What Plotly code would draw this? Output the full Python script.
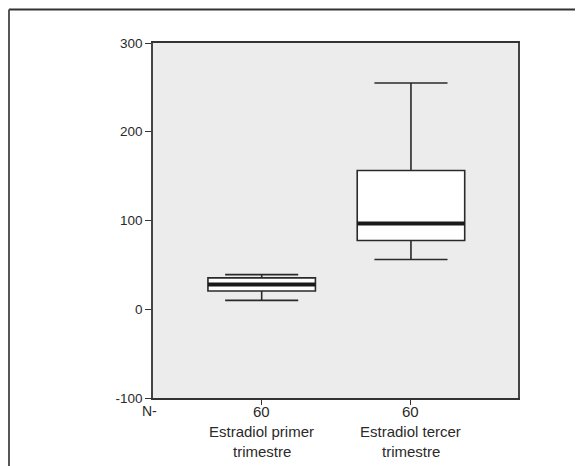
import plotly.graph_objects as go

# Data
categories = ["Estradiol primer trimestre", "Estradiol tercer trimestre"]
n_values = [60, 60]
label_line1 = ["Estradiol primer", "Estradiol tercer"]
label_line2 = ["trimestre", "trimestre"]
lower_whisker = [10, 56]
q1_values = [20.6, 77.4]
median_values = [27.8, 96.6]
q3_values = [35.3, 156.3]
upper_whisker = [39, 255]
positions = [0, 1]
y_ticks = [-100, 0, 100, 200, 300]
y_tick_text = ["-100", "0", "100", "200", "300"]

FONT = "Liberation Sans, Arial, sans-serif"
TXT = "#2a2a2a"
BOX_W = 0.72

fig = go.Figure()
for i, cat in enumerate(categories):
    fig.add_trace(go.Box(
        x=[positions[i]],
        q1=[q1_values[i]], median=[median_values[i]], q3=[q3_values[i]],
        lowerfence=[lower_whisker[i]], upperfence=[upper_whisker[i]],
        name=cat, width=BOX_W, whiskerwidth=0.68,
        fillcolor="white", line=dict(color="#2a2a2a", width=1.6),
        boxpoints=False, showlegend=False, hoverinfo="skip",
    ))
    # thick median line
    fig.add_trace(go.Scatter(
        x=[positions[i] - BOX_W / 2, positions[i] + BOX_W / 2],
        y=[median_values[i], median_values[i]],
        mode="lines", line=dict(color="#1a1a1a", width=4),
        showlegend=False, hoverinfo="skip",
    ))

OFF = 8  # page body margin
W, H = 583 - OFF, 466 - OFF
L, T = 153 - OFF, 43 - OFF
R = W - (518 - OFF)
B = H - (398 - OFF)
pw, ph = W - L - R, H - T - B

def px_to_paper_x(px):
    return (px - OFF - L) / pw

def px_to_paper_y(py):
    return (H - B - (py - OFF)) / ph

annotations = [dict(
    text="N-", xref="paper", yref="paper",
    x=px_to_paper_x(159), y=px_to_paper_y(411),
    xanchor="right", yanchor="middle", showarrow=False,
    font=dict(size=14, family=FONT, color=TXT),
)]
for i in range(len(categories)):
    for txt, ypx in ((str(n_values[i]), 411), (label_line1[i], 431.5), (label_line2[i], 451.5)):
        annotations.append(dict(
            text=txt, xref="x", yref="paper", x=positions[i], y=px_to_paper_y(ypx),
            xanchor="center", yanchor="middle", showarrow=False,
            font=dict(size=15, family=FONT, color=TXT),
        ))

fig.update_layout(
    width=W, height=H,
    margin=dict(l=L, r=R, t=T, b=B, pad=0),
    paper_bgcolor="white", plot_bgcolor="#ececec",
    font=dict(family=FONT, color=TXT),
    xaxis=dict(
        range=[-0.728, 1.717], tickmode="array", tickvals=positions, showticklabels=False,
        showgrid=False, zeroline=False, showline=True, mirror=True, automargin=False,
        linecolor="#333333", linewidth=1.6,
        ticks="outside", ticklen=5, tickwidth=1.4, tickcolor="#333333",
    ),
    yaxis=dict(
        range=[-100, 300], tickmode="array", tickvals=y_ticks, ticktext=y_tick_text,
        showgrid=False, zeroline=False, showline=True, mirror=True, automargin=False,
        linecolor="#444444", linewidth=1.6,
        ticks="outside", ticklen=6, tickwidth=1.4, tickcolor="#333333",
        tickfont=dict(size=13.5, family=FONT, color=TXT),
    ),
    annotations=annotations,
    shapes=[
        dict(type="line", xref="paper", yref="paper",
             x0=px_to_paper_x(9), y0=px_to_paper_y(9.5),
             x1=px_to_paper_x(600), y1=px_to_paper_y(9.5),
             line=dict(color="#333333", width=1.8)),
        dict(type="line", xref="paper", yref="paper",
             x0=px_to_paper_x(9), y0=px_to_paper_y(9.5),
             x1=px_to_paper_x(9), y1=px_to_paper_y(480),
             line=dict(color="#444444", width=1.8)),
    ],
)

fig.write_html("out.html")
